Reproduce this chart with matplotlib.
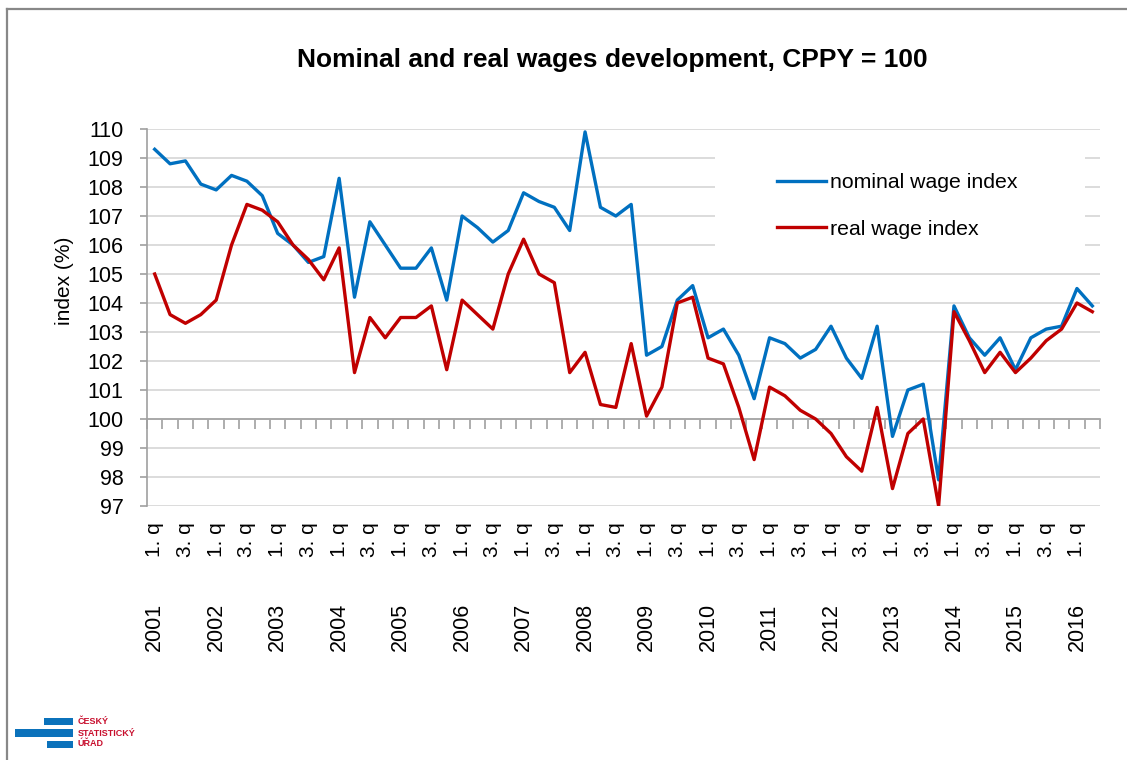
import matplotlib.pyplot as plt
import matplotlib.patches as mpatches
import matplotlib.transforms as mtransforms
from matplotlib.lines import Line2D

plt.rcParams['font.family'] = ['Liberation Sans', 'DejaVu Sans']

years = list(range(2001, 2017))
quarter_names = ['1. q', '', '3. q', '']

nominal = [109.3, 108.8, 108.9, 108.1, 107.9, 108.4, 108.2, 107.7,
           106.4, 106.0, 105.4, 105.6, 108.3, 104.2, 106.8, 106.0,
           105.2, 105.2, 105.9, 104.1, 107.0, 106.6, 106.1, 106.5,
           107.8, 107.5, 107.3, 106.5, 109.9, 107.3, 107.0, 107.4,
           102.2, 102.5, 104.1, 104.6, 102.8, 103.1, 102.2, 100.7,
           102.8, 102.6, 102.1, 102.4, 103.2, 102.1, 101.4, 103.2,
           99.4, 101.0, 101.2, 97.9, 103.9, 102.8, 102.2, 102.8,
           101.7, 102.8, 103.1, 103.2, 104.5, 103.9]

real = [105.0, 103.6, 103.3, 103.6, 104.1, 106.0, 107.4, 107.2,
        106.8, 106.0, 105.5, 104.8, 105.9, 101.6, 103.5, 102.8,
        103.5, 103.5, 103.9, 101.7, 104.1, 103.6, 103.1, 105.0,
        106.2, 105.0, 104.7, 101.6, 102.3, 100.5, 100.4, 102.6,
        100.1, 101.1, 104.0, 104.2, 102.1, 101.9, 100.4, 98.6,
        101.1, 100.8, 100.3, 100.0, 99.5, 98.7, 98.2, 100.4,
        97.6, 99.5, 100.0, 97.0, 103.7, 102.7, 101.6, 102.3,
        101.6, 102.1, 102.7, 103.1, 104.0, 103.7]

W, H = 1127, 760
fig = plt.figure(figsize=(W / 100, H / 100), dpi=100)
ax = fig.add_axes([147 / W, 1 - 506 / H, (1100 - 147) / W, (506 - 129) / H])

n = len(nominal)
x = list(range(n))
ax.plot(x, nominal, color='#0070C0', lw=2.4, zorder=3, label='nominal wage index')
ax.plot(x, real, color='#C00000', lw=2.4, zorder=3, label='real wage index')

ax.set_xlim(-0.5, n - 0.5)
ax.set_ylim(97, 110)
ax.set_yticks(range(97, 111))
ax.set_axisbelow(True)
ax.grid(axis='y', color='#d9d9d9', lw=1.3)

for s in ['top', 'right']:
    ax.spines[s].set_visible(False)
ax.spines['left'].set_color('#a0a0a0')
ax.spines['left'].set_linewidth(1.2)
ax.spines['bottom'].set_position(('data', 100))
ax.spines['bottom'].set_color('#a0a0a0')
ax.spines['bottom'].set_linewidth(1.2)
ax.set_xticks([i - 0.5 for i in range(n + 1)])
ax.set_xticklabels([])
ax.tick_params(axis='x', direction='out', length=7, color='#a0a0a0', width=1.2)
ax.tick_params(axis='y', direction='out', length=5, color='#a0a0a0', width=1.2,
               labelsize=15.5, pad=12)

# quarter labels at the bottom of the plot area
sec = ax.secondary_xaxis(0)
qpos = [i for i in range(n) if quarter_names[i % 4]]
sec.set_xticks(qpos)
sec.set_xticklabels([quarter_names[i % 4] for i in qpos], rotation=90, fontsize=15)
sec.tick_params(length=0, pad=12)
sec.spines['bottom'].set_visible(False)

trans = mtransforms.blended_transform_factory(ax.transData, ax.transAxes)
for k, yr in enumerate(years):
    ax.text(k * 4, -0.32, str(yr), rotation=90, fontsize=15.5,
            ha='center', va='center', transform=trans)

fig.text(65 / W, 1 - 281 / H, 'index (%)', rotation=90, fontsize=15,
         ha='center', va='center')

fig.text(612 / W, 1 - 60 / H, 'Nominal and real wages development, CPPY = 100',
         fontsize=19, fontweight='bold', ha='center', va='center')

# legend box hiding grid lines
box = mpatches.Rectangle((715 / W, 1 - 266 / H), 370 / W, 116 / H,
                         transform=fig.transFigure, facecolor='white',
                         edgecolor='none', zorder=1, clip_on=False)
ax.add_patch(box)
ax.legend(loc='upper left', bbox_to_anchor=(777 / W, 1 - 173 / H),
          bbox_transform=fig.transFigure, frameon=False, fontsize=15.3,
          handlelength=2.3, handletextpad=0.2, labelspacing=1.3,
          borderpad=0, borderaxespad=0)

# chart frame
fig.add_artist(Line2D([7 / W, 1], [1 - 9 / H, 1 - 9 / H], color='#888888', lw=1.6))
fig.add_artist(Line2D([7 / W, 7 / W], [0, 1 - 9 / H], color='#888888', lw=1.6))

# logo
logo_blue = '#0b72bb'
for x0, y0, w, h in [(44, 718, 29, 7), (15, 729, 58, 8), (47, 741, 26, 7)]:
    fig.add_artist(mpatches.Rectangle((x0 / W, 1 - (y0 + h) / H), w / W, h / H,
                                      transform=fig.transFigure, facecolor=logo_blue,
                                      edgecolor='none'))
for yy, t in [(722, 'ČESKÝ'), (733, 'STATISTICKÝ'), (744, 'ÚŘAD')]:
    fig.text(78 / W, 1 - yy / H, t, color='#c8102e', fontsize=6.5,
             fontweight='bold', ha='left', va='center')

fig.savefig('out.png', dpi=100)
